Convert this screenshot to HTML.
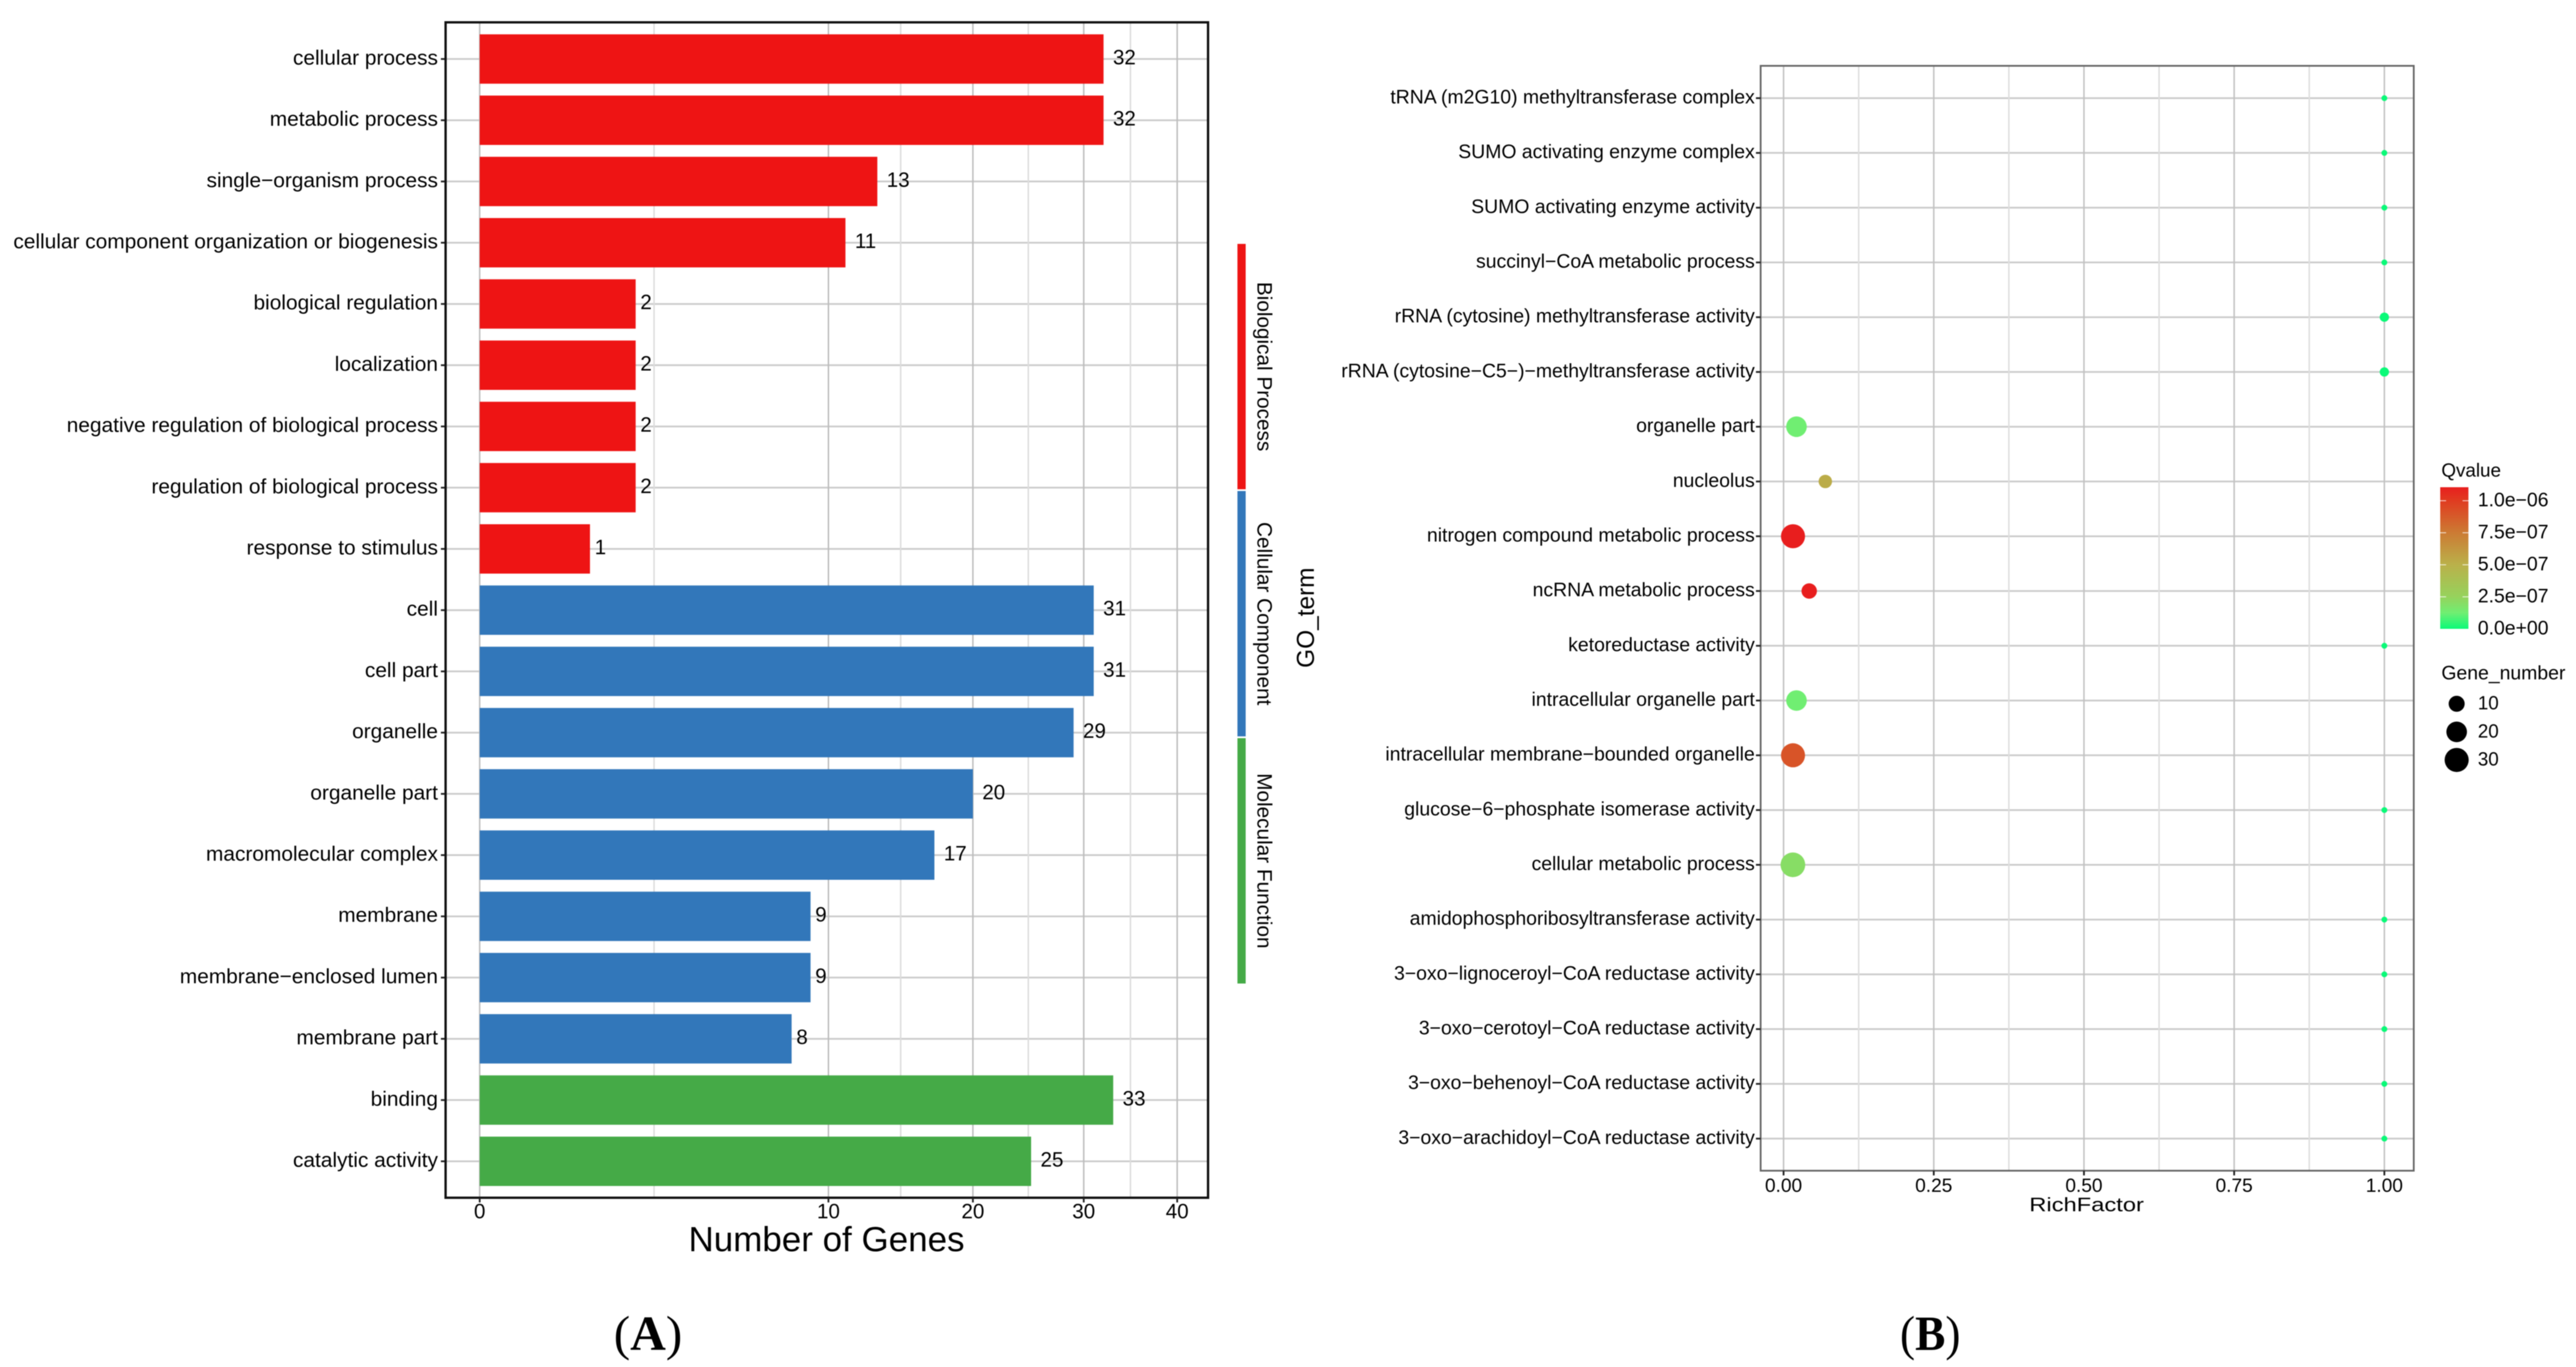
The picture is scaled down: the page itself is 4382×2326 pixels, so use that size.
<!DOCTYPE html>
<html>
<head>
<meta charset="utf-8">
<style>
html,body{margin:0;padding:0;background:#fff;width:4382px;height:2326px;overflow:hidden}
svg{display:block;filter:blur(0.9px)}
text{font-family:"Liberation Sans",Arial,sans-serif;fill:#000}
.serif{font-family:"Liberation Serif","Times New Roman",serif}
</style>
</head>
<body>
<svg id="fig" xmlns="http://www.w3.org/2000/svg" width="4382" height="2326" viewBox="0 0 4382 2326">
  <text class="serif" x="1044" y="2297" font-size="84">(<tspan font-weight="bold">A</tspan>)</text>
  <text class="serif" x="3232" y="2297" font-size="84" textLength="103" lengthAdjust="spacingAndGlyphs">(<tspan font-weight="bold">B</tspan>)</text>
</svg>
<script>
/* Panel A data */
const barCategories = ["cellular process","metabolic process","single\u2212organism process","cellular component organization or biogenesis","biological regulation","localization","negative regulation of biological process","regulation of biological process","response to stimulus","cell","cell part","organelle","organelle part","macromolecular complex","membrane","membrane\u2212enclosed lumen","membrane part","binding","catalytic activity"];
const barValues = [32,32,13,11,2,2,2,2,1,31,31,29,20,17,9,9,8,33,25];
const barGroups = ["BP","BP","BP","BP","BP","BP","BP","BP","BP","CC","CC","CC","CC","CC","CC","CC","CC","MF","MF"];
const barTicks = [0,10,20,30,40];
const groupNames = ["Biological Process","Cellular Component","Molecular Function"];
const groupKeys = ["BP","CC","MF"];

/* Panel B data */
const bubbleTerms = ["tRNA (m2G10) methyltransferase complex","SUMO activating enzyme complex","SUMO activating enzyme activity","succinyl\u2212CoA metabolic process","rRNA (cytosine) methyltransferase activity","rRNA (cytosine\u2212C5\u2212)\u2212methyltransferase activity","organelle part","nucleolus","nitrogen compound metabolic process","ncRNA metabolic process","ketoreductase activity","intracellular organelle part","intracellular membrane\u2212bounded organelle","glucose\u22126\u2212phosphate isomerase activity","cellular metabolic process","amidophosphoribosyltransferase activity","3\u2212oxo\u2212lignoceroyl\u2212CoA reductase activity","3\u2212oxo\u2212cerotoyl\u2212CoA reductase activity","3\u2212oxo\u2212behenoyl\u2212CoA reductase activity","3\u2212oxo\u2212arachidoyl\u2212CoA reductase activity"];
const richFactor = [1,1,1,1,1,1,0.0215,0.0695,0.0157,0.0427,1,0.0215,0.0157,1,0.0155,1,1,1,1,1];
const geneNumber = [1,1,1,1,2,2,20,6,30,9,1,20,30,1,32,1,1,1,1,1];
const qValue = [0,0,0,0,0,0,1.25e-7,5.2e-7,1.1e-6,1.1e-6,0,1.25e-7,9e-7,0,2e-7,0,0,0,0,0];
const richTicks = [0,0.25,0.5,0.75,1];
const richTickLabels = ["0.00","0.25","0.50","0.75","1.00"];
const qTicks = [1e-6,7.5e-7,5e-7,2.5e-7,0];
const qTickLabels = ["1.0e\u221206","7.5e\u221207","5.0e\u221207","2.5e\u221207","0.0e+00"];
const sizeLegendValues = [10,20,30];

const svg = document.getElementById('fig');
const NS = 'http://www.w3.org/2000/svg';
function mk(tag, attrs, parent) {
  const el = document.createElementNS(NS, tag);
  for (const k in attrs) el.setAttribute(k, attrs[k]);
  (parent || svg).appendChild(el);
  return el;
}
function txt(str, attrs, parent) {
  const el = mk('text', attrs, parent);
  el.textContent = str;
  return el;
}

/* ---------- Panel A axes ---------- */
const xA = v => 816 + 187.6 * Math.sqrt(v);
const yA = i => 100.4 + 104.2 * i;
const colorsA = {BP:'#ee1414', CC:'#3277ba', MF:'#45aa47'};

barCategories.forEach((c, i) => {
  const g = mk('line', {x1:757, x2:2056, y1:yA(i), y2:yA(i), stroke:'#cbcbcb', 'stroke-width':3});
  
  
});
barTicks.forEach((t, i) => {
  const g = mk('line', {x1:xA(t), x2:xA(t), y1:38, y2:2038, stroke:'#bdbdbd', 'stroke-width':2.5});
  
  
  if (i < barTicks.length - 1) {
    const mid = Math.pow((Math.sqrt(t) + Math.sqrt(barTicks[i + 1])) / 2, 2);
    const m = mk('line', {x1:xA(mid), x2:xA(mid), y1:38, y2:2038, stroke:'#dcdcdc', 'stroke-width':2.5});
    
    
  }
});
barValues.forEach((v, i) => {
  const b = mk('rect', {x:xA(0), y:yA(i) - 42, width:xA(v) - xA(0), height:84, fill:colorsA[barGroups[i]]});
  
  
  const l = txt(String(v), {x:xA(v) + 8 * String(v).length, y:yA(i) + 9, 'font-size':35});
  
  
  const t = txt(barCategories[i], {x:745, y:yA(i) + 9.5, 'font-size':35.5, 'text-anchor':'end'});
  
  
  const k = mk('line', {x1:750, x2:757, y1:yA(i), y2:yA(i), stroke:'#222', 'stroke-width':3});
  
  
});
const frameA = mk('rect', {x:758, y:38, width:1297, height:2000, fill:'none', stroke:'#111', 'stroke-width':4});


barTicks.forEach(t => {
  const k = mk('line', {x1:xA(t), x2:xA(t), y1:2038, y2:2046, stroke:'#222', 'stroke-width':3});
  
  
  const l = txt(String(t), {x:xA(t), y:2073, 'font-size':35, 'text-anchor':'middle'});
  
  
});
const titleA = txt('Number of Genes', {x:1406, y:2129, 'font-size':59.5, 'text-anchor':'middle'});



/* Side strip: each segment spans its group's rows */
const stripTop = 415, stripSeg = 420.5;
groupKeys.forEach((k, i) => {
  const s = mk('rect', {x:2105, y:stripTop + stripSeg * i, width:14, height:stripSeg - 3, fill:colorsA[k]});
  
  
  const cy = stripTop + stripSeg * i + (stripSeg - 3) / 2;
  const t = txt(groupNames[i], {x:0, y:0, 'font-size':35.3, 'text-anchor':'middle', transform:'translate(2139,' + cy + ') rotate(90)'});
  
  
});
const goTitle = txt('GO_term', {x:0, y:0, 'font-size':41.5, 'text-anchor':'middle', transform:'translate(2235,1051) rotate(-90)'});



/* ---------- Panel B axes ---------- */
const xB = r => 3034 + 1022 * r;
const yB = i => 167 + 93.18 * i;
const rB = n => 5 + 16 * Math.sqrt((n - 1) / 31);
const colorStops = [[0,[10,250,120]],[1.25e-7,[112,238,114]],[2.5e-7,[150,210,92]],[5e-7,[186,176,74]],[7.5e-7,[204,122,51]],[1e-6,[224,58,32]],[1.1e-6,[232,30,30]]];
function qColor(q) {
  for (let i = 1; i < colorStops.length; i++) {
    if (q <= colorStops[i][0]) {
      const a = colorStops[i - 1], b = colorStops[i];
      const f = (q - a[0]) / (b[0] - a[0]);
      return 'rgb(' + a[1].map((c, j) => Math.round(c + (b[1][j] - c) * f)).join(',') + ')';
    }
  }
  return 'rgb(232,30,30)';
}

bubbleTerms.forEach((c, i) => {
  const g = mk('line', {x1:2995, x2:4106, y1:yB(i), y2:yB(i), stroke:'#cbcbcb', 'stroke-width':3});
  
  
});
richTicks.forEach((t, i) => {
  const g = mk('line', {x1:xB(t), x2:xB(t), y1:112, y2:1992, stroke:'#c2c2c2', 'stroke-width':2.5});
  
  
  if (i < richTicks.length - 1) {
    const mid = (t + richTicks[i + 1]) / 2;
    const m = mk('line', {x1:xB(mid), x2:xB(mid), y1:112, y2:1992, stroke:'#dedede', 'stroke-width':2.5});
    
    
  }
});
const frameB = mk('rect', {x:2995, y:112, width:1111, height:1880, fill:'none', stroke:'#666', 'stroke-width':3});


bubbleTerms.forEach((c, i) => {
  const k = mk('line', {x1:2987, x2:2995, y1:yB(i), y2:yB(i), stroke:'#222', 'stroke-width':3});
  
  
  const t = txt(c, {x:2985, y:yB(i) + 9, 'font-size':33, 'text-anchor':'end'});
  
  
  const d = mk('circle', {cx:xB(richFactor[i]), cy:yB(i), r:rB(geneNumber[i]), fill:qColor(qValue[i])});
  
  
});
richTicks.forEach((t, i) => {
  const k = mk('line', {x1:xB(t), x2:xB(t), y1:1992, y2:2000, stroke:'#222', 'stroke-width':3});
  
  
  const l = txt(richTickLabels[i], {x:xB(t), y:2028, 'font-size':32.5, 'text-anchor':'middle'});
  
  
});
const titleB = txt('RichFactor', {x:3452, y:2061, 'font-size':33, textLength:195, lengthAdjust:'spacingAndGlyphs'});



/* ---------- Legends ---------- */
const qLegendTitle = txt('Qvalue', {x:4153, y:811, 'font-size':32});


const defs = mk('defs', {});
const grad = mk('linearGradient', {id:'qGrad', x1:0, y1:1, x2:0, y2:0}, defs);
const qMax = colorStops[colorStops.length - 1][0];
colorStops.forEach(s => {
  mk('stop', {offset:s[0] / qMax, 'stop-color':'rgb(' + s[1].join(',') + ')'}, grad);
});
const qBar = mk('rect', {x:4151, y:829, width:48, height:241, fill:'url(#qGrad)'});


const yQ = q => 1070 - 218 * q / 1e-6;
qTicks.forEach((q, i) => {
  if (q > 0) {
    const a = mk('line', {x1:4151, x2:4161, y1:yQ(q), y2:yQ(q), stroke:'#fff', 'stroke-width':1.5, opacity:0.8});
    
    
    const b = mk('line', {x1:4189, x2:4199, y1:yQ(q), y2:yQ(q), stroke:'#fff', 'stroke-width':1.5, opacity:0.8});
    
    
  }
  const l = txt(qTickLabels[i], {x:4215, y:yQ(q) + 9.5, 'font-size':33});
  
  
});
const sizeTitle = txt('Gene_number', {x:4153, y:1156, 'font-size':33});


sizeLegendValues.forEach((v, i) => {
  const cy = 1197.5 + 47.8 * i;
  const c = mk('circle', {cx:4179, cy:cy, r:rB(v), fill:'#000'});
  
  
  const l = txt(String(v), {x:4215, y:cy + 9.5, 'font-size':32});
  
  
});
</script>
</body>
</html>
